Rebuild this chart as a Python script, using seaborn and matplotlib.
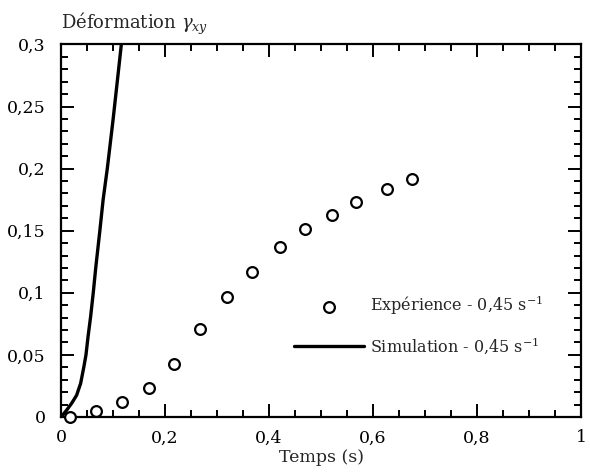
import matplotlib
matplotlib.use("Agg")
import matplotlib.pyplot as plt
import seaborn as sns
import pandas as pd
from matplotlib.ticker import MultipleLocator, FuncFormatter

# experimental points (time in s, shear strain gamma_xy)
exp_t = [0.017, 0.068, 0.118, 0.169, 0.218, 0.268, 0.319, 0.368, 0.421,
         0.469, 0.522, 0.568, 0.626, 0.675]
exp_g = [0.0, 0.0045, 0.0124, 0.0236, 0.043, 0.0706, 0.0964, 0.117, 0.1366,
         0.1511, 0.1627, 0.1734, 0.1836, 0.1916]

# simulation curve
sim_t = [0.0, 0.005, 0.011, 0.0204, 0.030, 0.0377, 0.044, 0.048, 0.052, 0.057,
         0.062, 0.067, 0.0747, 0.081, 0.089, 0.1, 0.11, 0.116]
sim_g = [0.0, 0.0025, 0.0056, 0.011, 0.0175, 0.027, 0.0405, 0.05, 0.0647, 0.081,
         0.1, 0.121, 0.15, 0.175, 0.2, 0.239, 0.277, 0.3]

exp_label = "Expérience - 0,45 s$^{-1}$"
sim_label = "Simulation - 0,45 s$^{-1}$"

sns.set_style("ticks")
plt.rcParams["font.family"] = ["DejaVu Serif"]
plt.rcParams["mathtext.fontset"] = "dejavuserif"

fs = 12.5
fig = plt.figure(figsize=(5.9, 4.73), dpi=100)
ax = fig.add_axes([0.1034, 0.1184, 0.8814, 0.7876])

exp_df = pd.DataFrame({"t": exp_t, "g": exp_g})
sim_df = pd.DataFrame({"t": sim_t, "g": sim_g})

sns.scatterplot(data=exp_df, x="t", y="g", ax=ax, marker="o", s=60,
                facecolor="white", edgecolor="black", linewidth=1.6,
                label=exp_label, zorder=3, clip_on=False)
sns.lineplot(data=sim_df, x="t", y="g", ax=ax, color="black", linewidth=2.4,
             label=sim_label, sort=False)

ax.set_xlim(0, 1)
ax.set_ylim(0, 0.3)
ax.xaxis.set_major_locator(MultipleLocator(0.2))
ax.xaxis.set_minor_locator(MultipleLocator(0.05))
ax.yaxis.set_major_locator(MultipleLocator(0.05))
ax.yaxis.set_minor_locator(MultipleLocator(0.01))
comma = FuncFormatter(lambda v, p: ("%g" % round(v, 3)).replace(".", ","))
ax.xaxis.set_major_formatter(comma)
ax.yaxis.set_major_formatter(comma)

ax.tick_params(which="both", direction="in", top=True, right=True,
               width=1.4, labelsize=fs, colors="black")
ax.tick_params(which="major", length=9.5)
ax.tick_params(which="minor", length=5)
ax.tick_params(axis="x", which="major", pad=9)
ax.tick_params(axis="y", which="major", pad=11)
for s in ax.spines.values():
    s.set_linewidth(1.6)
    s.set_color("black")

ax.set_xlabel("Temps (s)", fontsize=fs, labelpad=2)
ax.set_ylabel("Déformation $\\gamma_{xy}$", fontsize=fs + 0.5, rotation=0,
              ha="left", va="bottom")
ax.yaxis.set_label_coords(0.0, 1.02)

ax.legend(loc="upper left", bbox_to_anchor=(0.436, 0.349), frameon=False,
          fontsize=11.5, handlelength=4.4, handletextpad=0.35,
          labelspacing=1.15, borderaxespad=0)

fig.savefig("out.png", dpi=100)
